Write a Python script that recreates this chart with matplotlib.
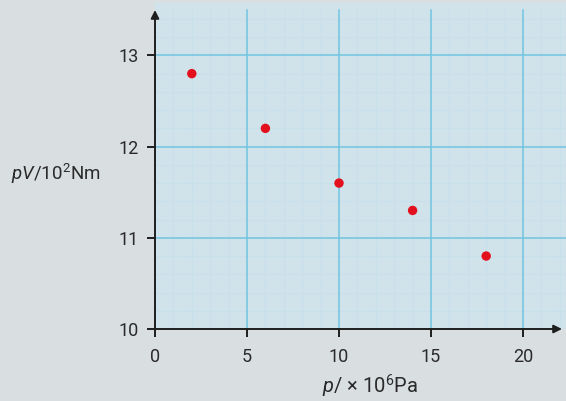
import matplotlib
matplotlib.use("Agg")
import matplotlib.pyplot as plt
import numpy as np

# data
pressure = [2, 6, 10, 14, 18]          # p / 10^6 Pa
pv = [12.8, 12.2, 11.6, 11.3, 10.8]     # pV / 10^2 Nm
xticks = [0, 5, 10, 15, 20]
yticks = [10, 11, 12, 13]

FONT = 'Roboto'
plt.rcParams['font.family'] = [FONT, 'DejaVu Sans']
plt.rcParams['mathtext.fontset'] = 'custom'
plt.rcParams['mathtext.rm'] = FONT
plt.rcParams['mathtext.it'] = FONT + ':italic'

W, H = 566, 401
fig = plt.figure(figsize=(W/100, H/100), dpi=100, facecolor='#d9dee1')

x0px, x1px = 155, 566
yb_px, yt_px = 329, 3
ax = fig.add_axes([x0px/W, 1-yb_px/H, (x1px-x0px)/W, (yb_px-yt_px)/H])
ax.set_facecolor('#d0e2ea')

xs = 18.4   # px per unit
ys = 91.2
ax.set_xlim(0, (x1px-x0px)/xs)
ax.set_ylim(10, 10 + (yb_px-yt_px)/ys)

ytop = 10 + (yb_px-10)/ys
xend = (562-x0px)/xs

# minor grid
for v in np.arange(1, 23, 1):
    if v % 5:
        ax.plot([v, v], [10, ytop], color='#c8e0ea', lw=0.8, zorder=1)
for v in np.arange(10.2, 13.5, 0.2):
    if abs(v - round(v)) > 0.05:
        ax.plot([0, 30], [v, v], color='#c8e0ea', lw=0.8, zorder=1)
# major grid
for v in xticks[1:]:
    ax.plot([v, v], [10, ytop], color='#72c4e2', lw=1.1, zorder=2)
for v in yticks[1:]:
    ax.plot([0, 30], [v, v], color='#72c4e2', lw=1.1, zorder=2)

for s in ax.spines.values():
    s.set_visible(False)

# axes arrows
ax.annotate('', xy=(xend, 10), xytext=(0, 10), xycoords='data',
            arrowprops=dict(arrowstyle='-|>', color='#1e1e1e', lw=1.4,
                            mutation_scale=12, shrinkA=0, shrinkB=0),
            annotation_clip=False, zorder=5)
ax.annotate('', xy=(0, ytop), xytext=(0, 10), xycoords='data',
            arrowprops=dict(arrowstyle='-|>', color='#1e1e1e', lw=1.4,
                            mutation_scale=12, shrinkA=0, shrinkB=0),
            annotation_clip=False, zorder=5)

ax.scatter(pressure, pv, s=46, color='#e3101e', zorder=6, edgecolors='none')

ax.set_xticks(xticks)
ax.set_yticks(yticks)
ax.tick_params(axis='both', direction='out', length=6, width=1.4, color='#1e1e1e',
               labelsize=13, labelcolor='#2a2a2a', pad=6)
ax.tick_params(axis='x', pad=8)

fig.text(56/W, 1-180/H, r'$\mathit{pV}$/10$^2$Nm', ha='center', va='baseline',
         fontsize=13.5, color='#2a2a2a')
fig.text(370/W, 1-394/H, r'$\mathit{p}$/ × 10$^6$Pa', ha='center', va='baseline',
         fontsize=14.5, color='#2a2a2a')

fig.savefig('out.png', dpi=100, facecolor=fig.get_facecolor())
